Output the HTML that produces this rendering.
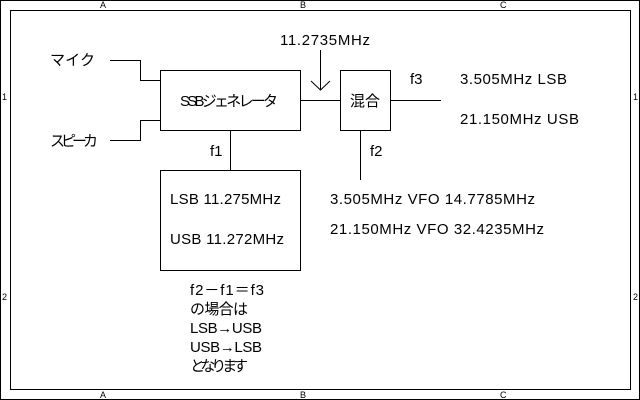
<!DOCTYPE html>
<html><head><meta charset="utf-8"><style>
html,body{margin:0;padding:0;background:#fff}
svg{display:block}
text{font-family:"Liberation Sans","Noto Sans CJK JP",sans-serif;font-size:15px;fill:#000}
.s{font-size:9px}
</style></head><body>
<svg width="640" height="400" viewBox="0 0 640 400" xmlns="http://www.w3.org/2000/svg">
<g fill="none" stroke="#000" stroke-width="1">
<rect x="0.5" y="0.5" width="639" height="399"/>
<rect x="10.5" y="10.5" width="620" height="379"/>
<rect x="160.5" y="70.5" width="140" height="60"/>
<rect x="340.5" y="70.5" width="50" height="60"/>
<rect x="160.5" y="170.5" width="140" height="100"/>
<polyline points="110,60.5 140.5,60.5 140.5,80.5 160,80.5"/>
<polyline points="110,140.5 140.5,140.5 140.5,120.5 160,120.5"/>
<line x1="300" y1="100.5" x2="340" y2="100.5"/>
<line x1="390" y1="100.5" x2="441" y2="100.5"/>
<line x1="320.5" y1="50" x2="320.5" y2="90"/>
<polyline points="311,81 320.5,90 330,81"/>
<line x1="360.5" y1="130" x2="360.5" y2="180"/>
<line x1="230.5" y1="130" x2="230.5" y2="170"/>
</g>
<text class="s" x="100" y="8">A</text><text class="s" x="300" y="8">B</text><text class="s" x="500" y="8">C</text>
<text class="s" x="100" y="398">A</text><text class="s" x="300" y="398">B</text><text class="s" x="500" y="398">C</text>
<text class="s" x="2" y="100">1</text><text class="s" x="2" y="300">2</text>
<text class="s" x="633" y="100">1</text><text class="s" x="633" y="300">2</text>
<text x="280" y="45" textLength="90">11.2735MHz</text>
<text x="50" y="65" textLength="45">マイク</text>
<text x="50" y="146" textLength="48">スピーカ</text>
<text x="180" y="106" textLength="98">SSBジェネレータ</text>
<text x="350" y="106" textLength="30">混合</text>
<text x="410" y="84">f3</text>
<text x="460" y="84" textLength="107">3.505MHz  LSB</text>
<text x="460" y="124" textLength="119">21.150MHz  USB</text>
<text x="370" y="156">f2</text>
<text x="210" y="156">f1</text>
<text x="170" y="204" textLength="111">LSB 11.275MHz</text>
<text x="170" y="244" textLength="114">USB 11.272MHz</text>
<text x="330" y="204" textLength="205">3.505MHz  VFO 14.7785MHz</text>
<text x="330" y="234" textLength="214">21.150MHz  VFO 32.4235MHz</text>
<text x="190" y="295" textLength="74">f2－f1＝f3</text>
<text x="190" y="314" textLength="58">の場合は</text>
<text x="190" y="333" textLength="72">LSB→USB</text>
<text x="190" y="352" textLength="72">USB→LSB</text>
<text x="190" y="371" textLength="58">となります</text>
</svg>
</body></html>
